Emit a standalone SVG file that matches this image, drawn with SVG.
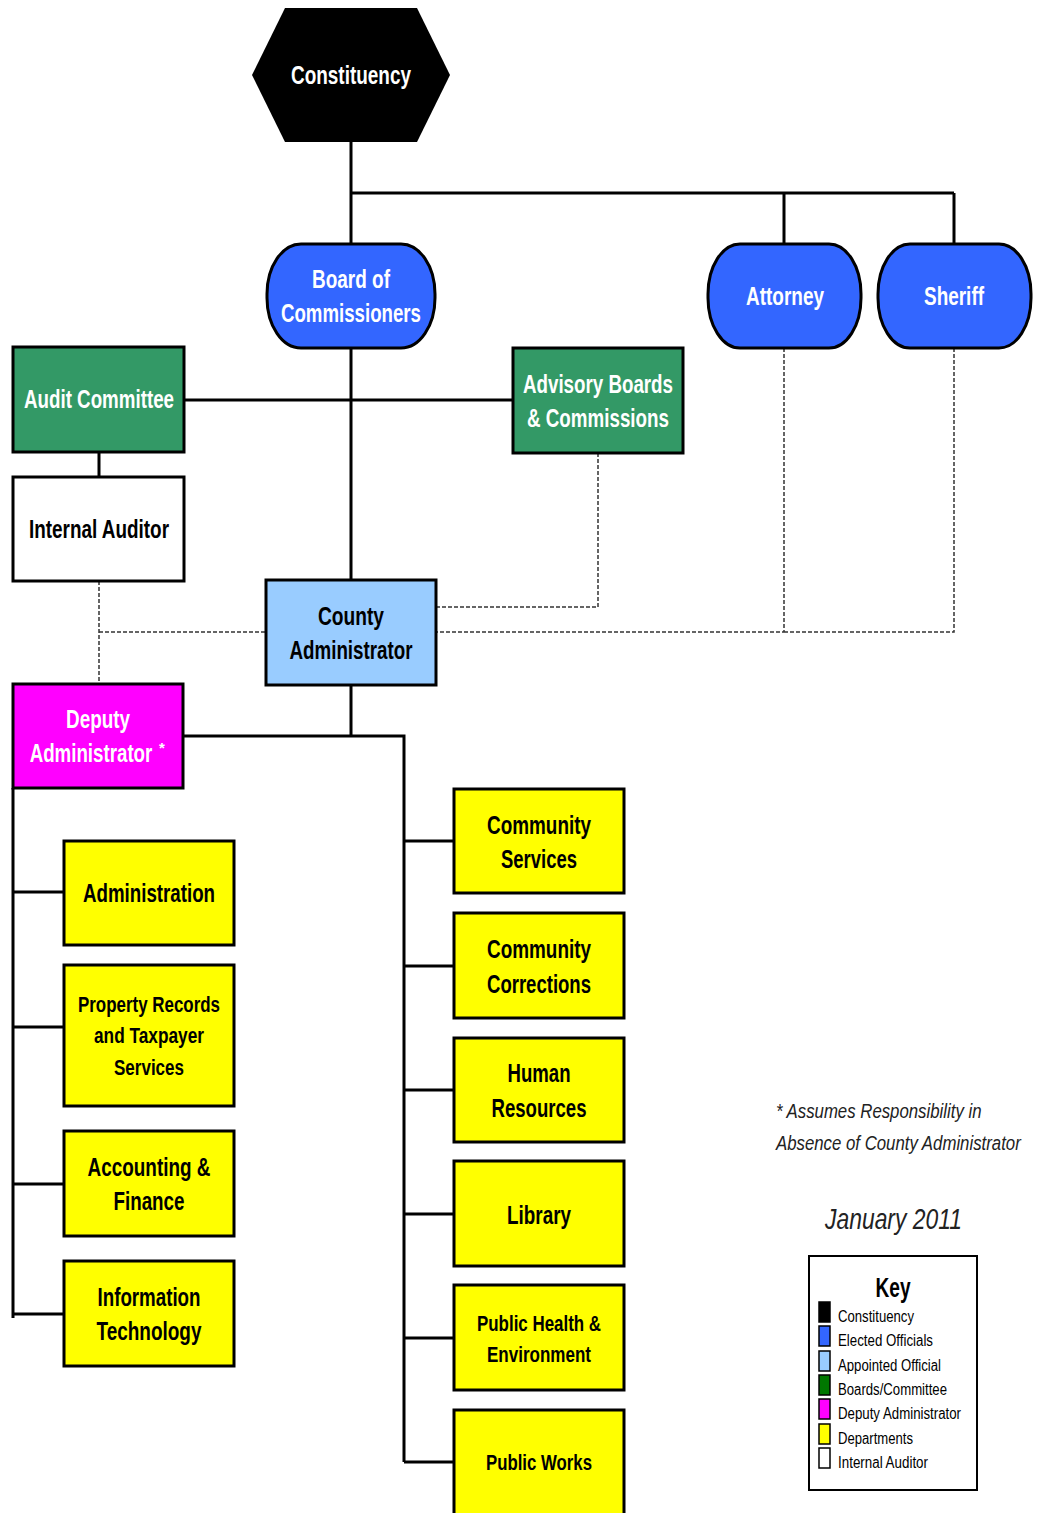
<svg xmlns="http://www.w3.org/2000/svg" width="1037" height="1513" viewBox="0 0 1037 1513">
<style>
.t{font-family:"Liberation Sans",Arial,sans-serif;font-weight:bold;text-anchor:middle;}
.w{fill:#fff;}
.k{fill:#000;}
.box{stroke:#000;stroke-width:3;}
.blue{fill:#3366FF;}
.green{fill:#339966;}
.lb{fill:#99CCFF;}
.mag{fill:#FF00FF;}
.yel{fill:#FFFF00;}
.wh{fill:#fff;}
.ln{stroke:#000;stroke-width:3;fill:none;}
.dl{stroke:#333;stroke-width:1.5;fill:none;stroke-dasharray:4 2;}
.note{font-family:"Liberation Sans",Arial,sans-serif;font-style:italic;fill:#222;}
.key{font-family:"Liberation Sans",Arial,sans-serif;fill:#000;font-size:16px;}
.sw{stroke:#000;stroke-width:1.5;}
</style>
<rect width="1037" height="1513" fill="#fff"/>
<g id="connectors">
<path class="ln" d="M351 142V244M351 193H954M784 193V244M954 193V244"/>
<path class="ln" d="M351 348V580M184 400H513M99 452V477"/>
<path class="ln" d="M351 685V736M183 736H404V1462M13 788V1318"/>
<path class="ln" d="M13 892H64M13 1027H64M13 1184H64M13 1314H64"/>
<path class="ln" d="M404 841H454M404 966H454M404 1090H454M404 1214H454M404 1338H454M404 1462H454"/>
<path class="dl" d="M598 453V607H436M784 348V632H436M954 348V632H784M99 581V684M99 632H266"/>
</g>
<g id="constituency">
<polygon points="285,8 417,8 450,75 417,142 285,142 252,75" fill="#000"/>
<text class="t w" x="351" y="84" font-size="25" textLength="120" lengthAdjust="spacingAndGlyphs">Constituency</text>
</g>
<g id="board">
<rect class="box blue" x="267" y="244" width="168" height="104" rx="34" ry="50"/>
<text class="t w" x="351" y="288" font-size="26" textLength="78" lengthAdjust="spacingAndGlyphs">Board of</text>
<text class="t w" x="351" y="322" font-size="26" textLength="140" lengthAdjust="spacingAndGlyphs">Commissioners</text>
</g>
<g id="attorney">
<rect class="box blue" x="708" y="244" width="153" height="104" rx="32" ry="50"/>
<text class="t w" x="785" y="305" font-size="26" textLength="78" lengthAdjust="spacingAndGlyphs">Attorney</text>
</g>
<g id="sheriff">
<rect class="box blue" x="878" y="244" width="153" height="104" rx="32" ry="50"/>
<text class="t w" x="954" y="305" font-size="26" textLength="60" lengthAdjust="spacingAndGlyphs">Sheriff</text>
</g>
<g id="audit">
<rect class="box green" x="13" y="347" width="171" height="105"/>
<text class="t w" x="99" y="408" font-size="26" textLength="150" lengthAdjust="spacingAndGlyphs">Audit Committee</text>
</g>
<g id="advisory">
<rect class="box green" x="513" y="348" width="170" height="105"/>
<text class="t w" x="598" y="393" font-size="26" textLength="150" lengthAdjust="spacingAndGlyphs">Advisory Boards</text>
<text class="t w" x="598" y="427" font-size="26" textLength="142" lengthAdjust="spacingAndGlyphs">&amp; Commissions</text>
</g>
<g id="internal-auditor">
<rect class="box wh" x="13" y="477" width="171" height="104"/>
<text class="t k" x="99" y="538" font-size="26" textLength="140" lengthAdjust="spacingAndGlyphs">Internal Auditor</text>
</g>
<g id="county-admin">
<rect class="box lb" x="266" y="580" width="170" height="105"/>
<text class="t k" x="351" y="625" font-size="26" textLength="66" lengthAdjust="spacingAndGlyphs">County</text>
<text class="t k" x="351" y="659" font-size="26" textLength="123" lengthAdjust="spacingAndGlyphs">Administrator</text>
</g>
<g id="deputy">
<rect class="box mag" x="13" y="684" width="170" height="104"/>
<text class="t w" x="98" y="728" font-size="26" textLength="64" lengthAdjust="spacingAndGlyphs">Deputy</text>
<text class="t w" transform="translate(91,762) scale(0.72,1)" font-size="26">Administrator</text>
<text class="w" x="159" y="753" font-size="15" font-family="Liberation Sans,Arial,sans-serif" font-weight="bold">*</text>
</g>
<g id="administration">
<rect class="box yel" x="64" y="841" width="170" height="104"/>
<text class="t k" x="149" y="902" font-size="26" textLength="132" lengthAdjust="spacingAndGlyphs">Administration</text>
</g>
<g id="property-records">
<rect class="box yel" x="64" y="965" width="170" height="141"/>
<text class="t k" x="149" y="1012" font-size="22" textLength="142" lengthAdjust="spacingAndGlyphs">Property Records</text>
<text class="t k" x="149" y="1043" font-size="22" textLength="110" lengthAdjust="spacingAndGlyphs">and Taxpayer</text>
<text class="t k" x="149" y="1075" font-size="22" textLength="70" lengthAdjust="spacingAndGlyphs">Services</text>
</g>
<g id="accounting">
<rect class="box yel" x="64" y="1131" width="170" height="105"/>
<text class="t k" x="149" y="1176" font-size="26" textLength="123" lengthAdjust="spacingAndGlyphs">Accounting &amp;</text>
<text class="t k" x="149" y="1210" font-size="26" textLength="71" lengthAdjust="spacingAndGlyphs">Finance</text>
</g>
<g id="it">
<rect class="box yel" x="64" y="1261" width="170" height="105"/>
<text class="t k" x="149" y="1306" font-size="26" textLength="103" lengthAdjust="spacingAndGlyphs">Information</text>
<text class="t k" x="149" y="1340" font-size="26" textLength="105" lengthAdjust="spacingAndGlyphs">Technology</text>
</g>
<g id="community-services">
<rect class="box yel" x="454" y="789" width="170" height="104"/>
<text class="t k" x="539" y="834" font-size="26" textLength="104" lengthAdjust="spacingAndGlyphs">Community</text>
<text class="t k" x="539" y="868" font-size="26" textLength="76" lengthAdjust="spacingAndGlyphs">Services</text>
</g>
<g id="community-corrections">
<rect class="box yel" x="454" y="913" width="170" height="105"/>
<text class="t k" x="539" y="958" font-size="26" textLength="104" lengthAdjust="spacingAndGlyphs">Community</text>
<text class="t k" x="539" y="993" font-size="26" textLength="104" lengthAdjust="spacingAndGlyphs">Corrections</text>
</g>
<g id="human-resources">
<rect class="box yel" x="454" y="1038" width="170" height="104"/>
<text class="t k" x="539" y="1082" font-size="26" textLength="63" lengthAdjust="spacingAndGlyphs">Human</text>
<text class="t k" x="539" y="1117" font-size="26" textLength="95" lengthAdjust="spacingAndGlyphs">Resources</text>
</g>
<g id="library">
<rect class="box yel" x="454" y="1161" width="170" height="105"/>
<text class="t k" x="539" y="1224" font-size="26" textLength="64" lengthAdjust="spacingAndGlyphs">Library</text>
</g>
<g id="public-health">
<rect class="box yel" x="454" y="1285" width="170" height="105"/>
<text class="t k" x="539" y="1331" font-size="22" textLength="124" lengthAdjust="spacingAndGlyphs">Public Health &amp;</text>
<text class="t k" x="539" y="1362" font-size="22" textLength="104" lengthAdjust="spacingAndGlyphs">Environment</text>
</g>
<g id="public-works">
<rect class="box yel" x="454" y="1410" width="170" height="110"/>
<text class="t k" x="539" y="1470" font-size="22" textLength="106" lengthAdjust="spacingAndGlyphs">Public Works</text>
</g>
<g id="note">
<text class="note" transform="translate(776,1118) scale(0.8,1)" font-size="21">* Assumes Responsibility in</text>
<text class="note" transform="translate(776,1150) scale(0.8,1)" font-size="21">Absence of County Administrator</text>
<text class="note" x="825" y="1229" font-size="29" textLength="137" lengthAdjust="spacingAndGlyphs">January 2011</text>
</g>
<g id="key">
<rect x="809" y="1256" width="168" height="234" fill="#fff" stroke="#000" stroke-width="2"/>
<text class="t k" x="893" y="1297" font-size="27" textLength="35" lengthAdjust="spacingAndGlyphs">Key</text>
<rect class="sw" x="819" y="1302" width="11" height="20" fill="#000"/>
<rect class="sw" x="819" y="1326" width="11" height="20" fill="#3366FF"/>
<rect class="sw" x="819" y="1351" width="11" height="20" fill="#99CCFF"/>
<rect class="sw" x="819" y="1375" width="11" height="20" fill="#007700"/>
<rect class="sw" x="819" y="1399" width="11" height="20" fill="#FF00FF"/>
<rect class="sw" x="819" y="1424" width="11" height="20" fill="#FFFF00"/>
<rect class="sw" x="819" y="1448" width="11" height="20" fill="#fff"/>
<text class="key" x="838" y="1322" textLength="76" lengthAdjust="spacingAndGlyphs">Constituency</text>
<text class="key" x="838" y="1346" textLength="95" lengthAdjust="spacingAndGlyphs">Elected Officials</text>
<text class="key" x="838" y="1371" textLength="103" lengthAdjust="spacingAndGlyphs">Appointed Official</text>
<text class="key" x="838" y="1395" textLength="109" lengthAdjust="spacingAndGlyphs">Boards/Committee</text>
<text class="key" x="838" y="1419" textLength="123" lengthAdjust="spacingAndGlyphs">Deputy Administrator</text>
<text class="key" x="838" y="1444" textLength="75" lengthAdjust="spacingAndGlyphs">Departments</text>
<text class="key" x="838" y="1468" textLength="90" lengthAdjust="spacingAndGlyphs">Internal Auditor</text>
</g>
</svg>
